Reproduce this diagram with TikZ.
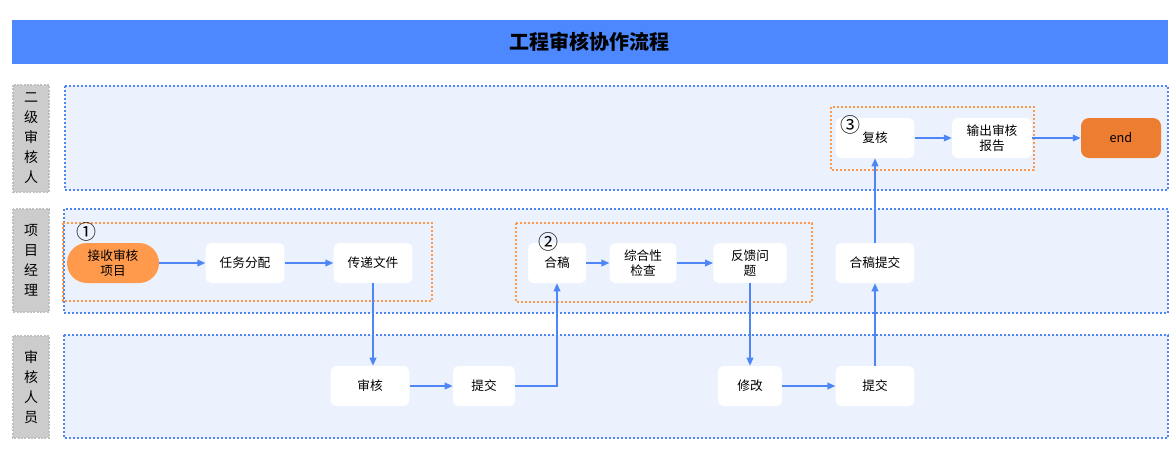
\documentclass[tikz,border=0pt]{standalone}
\usepackage{fontspec}
\setmainfont{Noto Sans CJK SC}
\usetikzlibrary{arrows.meta}
\definecolor{titleblue}{HTML}{4D88FF}
\definecolor{lanefill}{HTML}{EBF2FE}
\definecolor{laneline}{HTML}{4F86F7}
\definecolor{groupline}{HTML}{FF9A4D}
\definecolor{startfill}{HTML}{FF9A4D}
\definecolor{endfill}{HTML}{ED7D31}
\definecolor{flowblue}{HTML}{4F86F7}
\definecolor{labelgray}{HTML}{CCCCCC}

\tikzset{
  lane/.style={draw=laneline, fill=lanefill, line width=1.5pt, dash pattern=on 1.5pt off 1.5pt},
  labelbox/.style={draw=black!25, fill=labelgray, line width=0.8pt, dash pattern=on 1.5pt off 1pt},
  lanetext/.style={align=center, font=\fontsize{10.5}{15}\selectfont},
  group/.style={draw=groupline, line width=1.1pt, dash pattern=on 1.5pt off 1.5pt},
  proc/.style={rectangle, rounded corners=4pt, fill=white, minimum width=59pt, minimum height=30pt,
    align=center, inner sep=1pt, font=\fontsize{9.5}{11.5}\selectfont},
  flow/.style={draw=flowblue, line width=1.1pt, -{Triangle[length=6pt,width=5pt]}},
  numtag/.style={inner sep=0pt, font=\fontsize{15}{15}\selectfont}
}

\begin{document}
\begin{tikzpicture}[x=0.75pt, y=-0.75pt]
\useasboundingbox (0,0) rectangle (1176,458);

%%%%% title %%%%%
\fill[titleblue] (12,20) rectangle (1168,64);
\node[font=\fontsize{15}{18}\selectfont\bfseries] (title) at (589,42) {工程审核协作流程};

%%%%% lanes %%%%%
\draw[labelbox] (13,85) rectangle (49,192);
\draw[lane] (65,86) rectangle (1168,190);
\node[lanetext] (lane1) at (31,138.5) {二\\级\\审\\核\\人};

\draw[labelbox] (13,209) rectangle (49,312);
\draw[lane] (64,209) rectangle (1168,313);
\node[lanetext] (lane2) at (31,260.5) {项\\目\\经\\理};

\draw[labelbox] (13,336) rectangle (49,438);
\draw[lane] (64,335) rectangle (1168,438);
\node[lanetext] (lane3) at (31,387) {审\\核\\人\\员};

%%%%% groups %%%%%
\draw[group] (63,223) rectangle (432,301);
\draw[group] (516,223) rectangle (812,302);
\draw[group] (831,107) rectangle (1034,170);

%%%%% nodes %%%%%
\node[proc, fill=startfill, rounded corners=15pt, minimum width=69pt] (recv) at (113,263) {接收审核\\项目};
\node[proc] (assign) at (245,263) {任务分配};
\node[proc] (pass) at (373,263) {传递文件};
\node[proc] (review) at (370,386) {审核};
\node[proc, minimum width=46.5pt] (submit1) at (484,386) {提交};

\node[proc, minimum width=43.5pt] (merge) at (557,263) {合稿};
\node[proc, minimum width=50pt] (check) at (643,263) {综合性\\检查};
\node[proc, minimum width=55pt] (feedback) at (750,263) {反馈问\\题};
\node[proc, minimum width=48pt] (modify) at (750,386) {修改};
\node[proc] (submit2) at (875,386) {提交};
\node[proc] (mergesub) at (875,263) {合稿提交};

\node[proc] (recheck) at (875,138) {复核};
\node[proc, minimum width=60pt] (report) at (992,138) {输出审核\\报告};
\node[proc, fill=endfill, rounded corners=6pt, minimum width=60pt] (finish) at (1121,138) {end};

\node[numtag] (tag1) at (86,232) {①};
\node[numtag] (tag2) at (548,242) {②};
\node[numtag] (tag3) at (850,125) {③};

%%%%% connectors %%%%%
\draw[flow] (recv) -- (assign);
\draw[flow] (assign) -- (pass);
\draw[flow] (pass.south) -- (pass.south |- review.north);
\draw[flow] (review) -- (submit1);
\draw[flow] (submit1.east) -| (merge.south);
\draw[flow] (merge) -- (check);
\draw[flow] (check) -- (feedback);
\draw[flow] (feedback.south) -- (feedback.south |- modify.north);
\draw[flow] (modify) -- (submit2);
\draw[flow] (submit2) -- (mergesub);
\draw[flow] (mergesub) -- (recheck);
\draw[flow] (recheck) -- (report);
\draw[flow] (report) -- (finish);
\end{tikzpicture}
\end{document}
